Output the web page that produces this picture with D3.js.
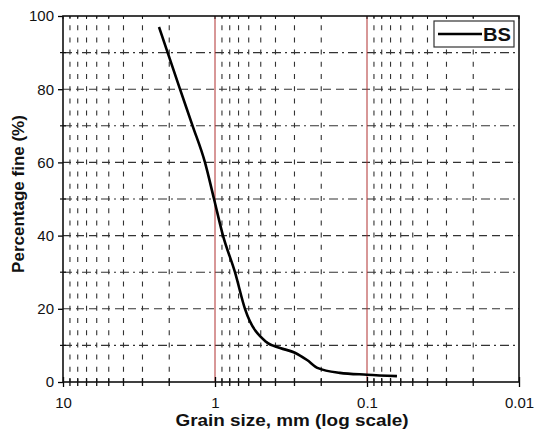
<!DOCTYPE html>
<html><head><meta charset="utf-8">
<script src="https://cdn.jsdelivr.net/npm/d3@7"></script>
<style>body{margin:0;background:#fff}svg{display:block}</style>
</head><body>
<script>
// Data (grain size in mm, percentage fine)
const grainSize = [2.336, 1.699, 1.404, 1.164, 1.015, 0.886, 0.739, 0.635, 0.462, 0.373, 0.298, 0.248, 0.21, 0.151, 0.1, 0.0635];
const percentFine = [97, 80, 70, 60, 50, 40, 30, 20, 11, 9.3, 8, 6, 3.8, 2.5, 2.0, 1.6];
const seriesName = "BS";
const xTickValues = [10, 1, 0.1, 0.01];
const xTickLabels = ["10", "1", "0.1", "0.01"];
const yTickValues = [0, 20, 40, 60, 80, 100];
const yMinorValues = [10, 30, 50, 70, 90];
const redLines = [1, 0.1];

const W = 534, H = 438;
const m = {l: 63, r: 15, t: 16, b: 56};
const svg = d3.select("body").append("svg").attr("width", W).attr("height", H);
const x = d3.scaleLog().domain([10, 0.01]).range([m.l, W - m.r]);
const y = d3.scaleLinear().domain([0, 100]).range([H - m.b, m.t]);
const x0 = x.range()[0], x1 = x.range()[1], y0 = y.range()[0], y1 = y.range()[1];

const minorX = [];
[1, 0.1, 0.01].forEach(b => { for (let k = 2; k <= 9; k++) minorX.push(+(b * k).toPrecision(3)); });

const g = svg.append("g");
g.selectAll(".vg").data(minorX).join("line")
  .attr("x1", d => x(d)).attr("x2", d => x(d)).attr("y1", y0).attr("y2", y1)
  .attr("stroke", "#333").attr("stroke-width", 1.1).attr("stroke-dasharray", "5,7.2")
  .attr("stroke-dashoffset", 2);
g.selectAll(".hg").data(yTickValues.filter(v => v > 0 && v < 100)).join("line")
  .attr("x1", x0).attr("x2", x1).attr("y1", d => y(d)).attr("y2", d => y(d))
  .attr("stroke", "#333").attr("stroke-width", 1.1).attr("stroke-dasharray", "8,5");
g.selectAll(".hm").data(yMinorValues).join("line")
  .attr("x1", x0).attr("x2", x1).attr("y1", d => y(d)).attr("y2", d => y(d))
  .attr("stroke", "#333").attr("stroke-width", 1.1).attr("stroke-dasharray", "9,4,2,4");
g.selectAll(".rl").data(redLines).join("line")
  .attr("x1", d => x(d)).attr("x2", d => x(d)).attr("y1", y0).attr("y2", y1)
  .attr("stroke", "#b03030").attr("stroke-width", 1);

const fontFam = "Liberation Sans, Arial, sans-serif";
const xAxis = d3.axisBottom(x).tickValues(xTickValues).tickFormat((d, i) => xTickLabels[i]).tickSize(5).tickPadding(10);
const xa = svg.append("g").attr("transform", `translate(0,${y0})`).call(xAxis);
xa.select(".domain").remove();
xa.selectAll(".tick line").attr("y1", -5).attr("y2", 5).attr("stroke-width", 1.3);
xa.selectAll("text").attr("font-family", fontFam).attr("font-size", 15).attr("fill", "#111");
svg.append("g").selectAll("line").data(minorX).join("line")
  .attr("x1", d => x(d)).attr("x2", d => x(d)).attr("y1", y0 - 4).attr("y2", y0 + 4)
  .attr("stroke", "#111").attr("stroke-width", 1.3);
svg.append("g").selectAll("line").data(minorX.concat(xTickValues)).join("line")
  .attr("x1", d => x(d)).attr("x2", d => x(d)).attr("y1", y1).attr("y2", y1 + 3)
  .attr("stroke", "#111").attr("stroke-width", 1);

const yAxis = d3.axisLeft(y).tickValues(yTickValues).tickSize(5).tickPadding(4);
const ya = svg.append("g").attr("transform", `translate(${x0},0)`).call(yAxis);
ya.select(".domain").remove();
ya.selectAll(".tick line").attr("stroke-width", 1.3);
ya.selectAll("text").attr("font-family", fontFam).attr("font-size", 15).attr("fill", "#111");
svg.append("g").selectAll("line").data(yMinorValues).join("line")
  .attr("x1", x0 - 3).attr("x2", x0 + 3).attr("y1", d => y(d)).attr("y2", d => y(d))
  .attr("stroke", "#111").attr("stroke-width", 1.2);

svg.append("rect").attr("x", x0).attr("y", y1).attr("width", x1 - x0).attr("height", y0 - y1)
  .attr("fill", "none").attr("stroke", "#111").attr("stroke-width", 1.6);

const pts = grainSize.map((d, i) => [d, percentFine[i]]);
svg.append("path").datum(pts)
  .attr("d", d3.line().x(d => x(d[0])).y(d => y(d[1])).curve(d3.curveMonotoneX))
  .attr("fill", "none").attr("stroke", "#000").attr("stroke-width", 2.6).attr("stroke-linejoin", "round");

const lg = svg.append("g");
lg.append("rect").attr("x", 434).attr("y", 21).attr("width", 80).attr("height", 26)
  .attr("fill", "#fff").attr("stroke", "#333").attr("stroke-width", 1.2);
lg.append("line").attr("x1", 438).attr("x2", 482).attr("y1", 34).attr("y2", 34)
  .attr("stroke", "#000").attr("stroke-width", 2.6);
lg.append("text").attr("x", 483).attr("y", 40.5).text(seriesName)
  .attr("font-family", fontFam).attr("font-size", 18).attr("font-weight", "bold").attr("fill", "#111")
  .attr("textLength", 28).attr("lengthAdjust", "spacingAndGlyphs");

svg.append("text").attr("x", 292).attr("y", 426).attr("text-anchor", "middle")
  .attr("font-family", fontFam).attr("font-size", 17).attr("font-weight", "bold").attr("fill", "#111")
  .attr("textLength", 233).attr("lengthAdjust", "spacingAndGlyphs")
  .text("Grain size, mm (log scale)");
svg.append("text").attr("transform", `translate(24,${(103 + 285) / 2}) rotate(-90)`).attr("text-anchor", "middle")
  .attr("font-family", fontFam).attr("font-size", 17).attr("font-weight", "bold").attr("fill", "#111")
  .text("Percentage fine (%)");
</script>
</body></html>
